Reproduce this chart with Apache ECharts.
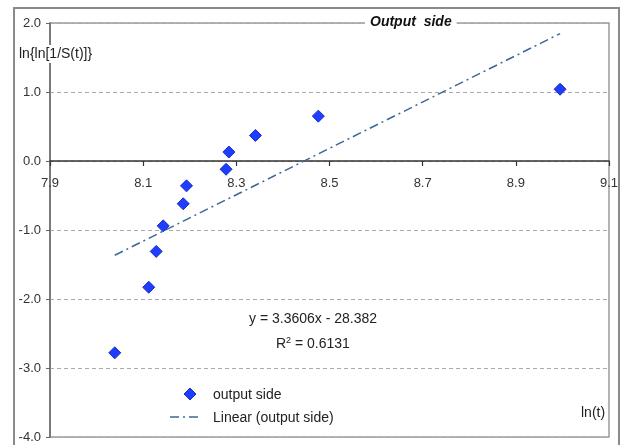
<!DOCTYPE html>
<html>
<head>
<meta charset="utf-8">
<script src="https://cdn.jsdelivr.net/npm/echarts@6/dist/echarts.min.js"></script>
<style>
  html, body { margin: 0; padding: 0; background: #fff; }
  #chart { width: 627px; height: 445px; }
</style>
</head>
<body>
<div id="chart"></div>
<script>
// observed points, ln(t) vs ln{ln[1/S(t)]}
const lnT = [8.039, 8.112, 8.128, 8.143, 8.186, 8.193, 8.278, 8.284, 8.341, 8.476, 8.995];
const lnLnS = [-2.78, -1.83, -1.31, -0.94, -0.62, -0.36, -0.12, 0.13, 0.37, 0.65, 1.04];

// linear trend endpoints as drawn
const trendX = [8.039, 8.995];
const trendY = [-1.366, 1.847];

const xTicks = [7.9, 8.1, 8.3, 8.5, 8.7, 8.9, 9.1];
const equation = 'y = 3.3606x - 28.382';
const rSquared = 'R{sup|2} = 0.6131';

const font = '"Liberation Sans", Arial, sans-serif';
const markerColor = '#1f3dff';
const trendColor = '#3a6896';
const trendDash = [9, 4, 2, 4];

const chart = echarts.init(document.getElementById('chart'));
chart.setOption({
  backgroundColor: '#fff',
  animation: false,
  textStyle: { fontFamily: font },
  grid: {
    left: 50,
    right: 18,
    top: 23,
    bottom: 8,
    show: true,
    borderColor: '#9a9a9a',
    borderWidth: 1.5,
    containLabel: false,
    outerBoundsMode: 'none',
  },
  xAxis: {
    type: 'value',
    min: 7.9,
    max: 9.1,
    position: 'bottom',
    // x axis sits on y = 0: 4 of the 6 y units (69px each) above the bottom edge
    offset: -276,
    axisLine: { onZero: false, lineStyle: { color: '#333', width: 1.5 } },
    axisTick: { customValues: xTicks, length: 5, lineStyle: { color: '#333', width: 1.2 } },
    axisLabel: {
      customValues: xTicks,
      margin: 16,
      fontSize: 13,
      color: '#333',
      formatter: (v) => v.toFixed(1),
    },
    splitLine: { show: false },
  },
  yAxis: {
    type: 'value',
    min: -4,
    max: 2,
    interval: 1,
    axisLine: { show: true, onZero: false, lineStyle: { color: '#666', width: 1.5 } },
    axisTick: { show: true, length: 4, lineStyle: { color: '#666' } },
    axisLabel: {
      margin: 9,
      fontSize: 13,
      color: '#333',
      formatter: (v) => v.toFixed(1),
    },
    splitLine: { lineStyle: { color: '#aaa', type: [4, 3] } },
  },
  title: {
    text: 'Output  side',
    left: 365,
    top: 13,
    padding: [2, 5],
    backgroundColor: '#fff',
    textStyle: {
      fontSize: 14,
      fontWeight: 'bold',
      fontStyle: 'italic',
      color: '#111',
      fontFamily: font,
    },
  },
  series: [
    {
      name: 'Linear (output side)',
      type: 'line',
      symbol: 'none',
      lineStyle: { color: trendColor, width: 1.5, type: trendDash },
      data: trendX.map((x, i) => [x, trendY[i]]),
      z: 2,
    },
    {
      name: 'output side',
      type: 'scatter',
      symbol: 'diamond',
      symbolSize: 12,
      itemStyle: { color: markerColor, borderColor: '#1a2fc0', borderWidth: 1, opacity: 1 },
      data: lnT.map((x, i) => [x, lnLnS[i]]),
      z: 3,
    },
  ],
  graphic: [
    {
      type: 'rect',
      shape: { x: 14, y: 8, width: 605, height: 445 },
      style: { fill: 'none', stroke: '#8a8a8a', lineWidth: 2 },
      silent: true,
      z: -1,
    },
    {
      type: 'text',
      left: 18,
      top: 45,
      style: {
        text: 'ln{ln[1/S(t)]}',
        fontSize: 14,
        fontFamily: font,
        fill: '#222',
        backgroundColor: '#fff',
        padding: [2, 1],
      },
      z: 10,
    },
    {
      type: 'text',
      left: 581,
      top: 406,
      style: { text: 'ln(t)', fontSize: 14, fontFamily: font, fill: '#222' },
      z: 10,
    },
    {
      type: 'text',
      left: 249,
      top: 312,
      style: { text: equation, fontSize: 14, fontFamily: font, fill: '#222' },
      z: 10,
    },
    {
      type: 'text',
      left: 276,
      top: 336,
      style: {
        text: rSquared,
        fontSize: 14,
        fontFamily: font,
        fill: '#222',
        rich: { sup: { fontSize: 9, verticalAlign: 'top', padding: [0, 0, 8, 0] } },
      },
      z: 10,
    },
    // legend
    {
      type: 'polygon',
      shape: { points: [[190, 388], [196, 394], [190, 400], [184, 394]] },
      style: { fill: markerColor, stroke: '#1a2fc0', lineWidth: 1 },
      z: 10,
    },
    {
      type: 'text',
      left: 213,
      top: 388,
      style: { text: 'output side', fontSize: 14, fontFamily: font, fill: '#222' },
      z: 10,
    },
    {
      type: 'line',
      shape: { x1: 170, y1: 417, x2: 199, y2: 417 },
      style: { stroke: trendColor, lineWidth: 1.5, lineDash: trendDash },
      z: 10,
    },
    {
      type: 'text',
      left: 213,
      top: 411,
      style: { text: 'Linear (output side)', fontSize: 14, fontFamily: font, fill: '#222' },
      z: 10,
    },
  ],
});
</script>
</body>
</html>
